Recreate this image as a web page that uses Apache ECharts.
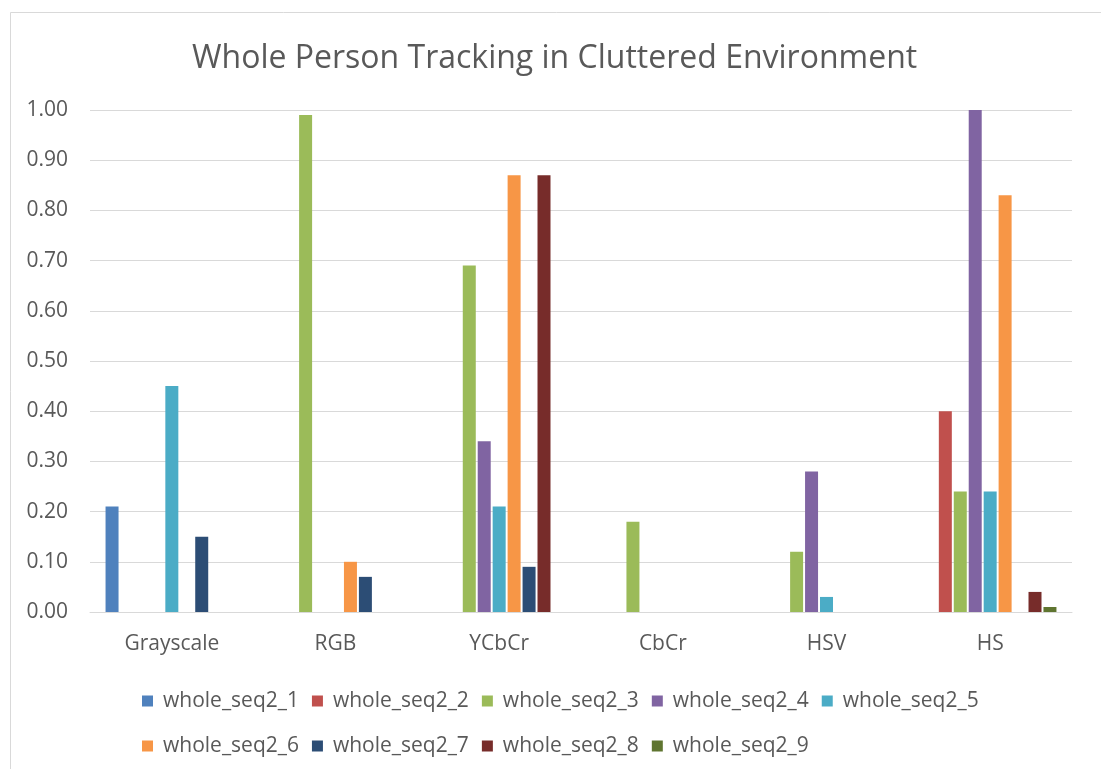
<!DOCTYPE html>
<html>
<head>
<meta charset="utf-8">
<script src="https://cdn.jsdelivr.net/npm/echarts@6/dist/echarts.min.js"></script>
<style>
  html, body { margin: 0; padding: 0; background: #fff; }
  #chart { width: 1101px; height: 769px; }
</style>
</head>
<body>
<div id="chart"></div>
<script>
// Colour spaces compared
const categories = ['Grayscale', 'RGB', 'YCbCr', 'CbCr', 'HSV', 'HS'];

// Tracking score per colour space, one array per sequence
const whole_seq2_1 = [0.21, 0, 0, 0, 0, 0];
const whole_seq2_2 = [0, 0, 0, 0, 0, 0.40];
const whole_seq2_3 = [0, 0.99, 0.69, 0.18, 0.12, 0.24];
const whole_seq2_4 = [0, 0, 0.34, 0, 0.28, 1.00];
const whole_seq2_5 = [0.45, 0, 0.21, 0, 0.03, 0.24];
const whole_seq2_6 = [0, 0.10, 0.87, 0, 0, 0.83];
const whole_seq2_7 = [0.15, 0.07, 0.09, 0, 0, 0];
const whole_seq2_8 = [0, 0, 0.87, 0, 0, 0.04];
const whole_seq2_9 = [0, 0, 0, 0, 0, 0.01];

const seriesNames = ['whole_seq2_1', 'whole_seq2_2', 'whole_seq2_3', 'whole_seq2_4', 'whole_seq2_5',
                     'whole_seq2_6', 'whole_seq2_7', 'whole_seq2_8', 'whole_seq2_9'];
const seriesValues = [whole_seq2_1, whole_seq2_2, whole_seq2_3, whole_seq2_4, whole_seq2_5,
                      whole_seq2_6, whole_seq2_7, whole_seq2_8, whole_seq2_9];
const colors = ['#4F81BD', '#C0504D', '#9BBB59', '#8064A2', '#4BACC6',
                '#F79646', '#2C4D75', '#772C2A', '#5F7530'];

const fontFamily = '"Open Sans", "Liberation Sans", sans-serif';
const chart = echarts.init(document.getElementById('chart'), null, { renderer: 'canvas' });

chart.setOption({
  animation: false,
  backgroundColor: '#ffffff',
  color: colors,
  graphic: [{
    type: 'rect',
    shape: { x: 10.5, y: 12.5, width: 1120, height: 800 },
    style: { fill: 'none', stroke: '#d9d9d9', lineWidth: 1 },
    silent: true
  }],
  title: {
    text: 'Whole Person Tracking in Cluttered Environment',
    left: 187,
    top: 38,
    textStyle: { fontFamily, fontSize: 32, fontWeight: 'normal', color: '#595959' }
  },
  legend: {
    data: seriesNames,
    left: 137,
    top: 680,
    width: 880,
    itemWidth: 11,
    itemHeight: 11,
    itemGap: 13,
    icon: 'rect',
    textStyle: { fontFamily, fontSize: 21, color: '#595959', lineHeight: 32, padding: [0, 0, 0, 5] }
  },
  grid: { left: 90, right: 29, top: 110, bottom: 157, containLabel: false },
  xAxis: {
    type: 'category',
    data: categories,
    axisTick: { show: false },
    axisLine: { lineStyle: { color: '#d9d9d9' } },
    axisLabel: { fontFamily, fontSize: 21, color: '#595959', margin: 22 }
  },
  yAxis: {
    type: 'value',
    min: 0,
    max: 1,
    interval: 0.1,
    axisLine: { show: false },
    axisTick: { show: false },
    splitLine: { lineStyle: { color: '#d9d9d9' } },
    axisLabel: {
      fontFamily, fontSize: 21, color: '#595959', margin: 22,
      formatter: v => v.toFixed(2)
    }
  },
  series: seriesNames.map((name, i) => ({
    name,
    type: 'bar',
    data: seriesValues[i],
    barGap: '15%',
    barCategoryGap: '19%'
  }))
});
</script>
</body>
</html>
